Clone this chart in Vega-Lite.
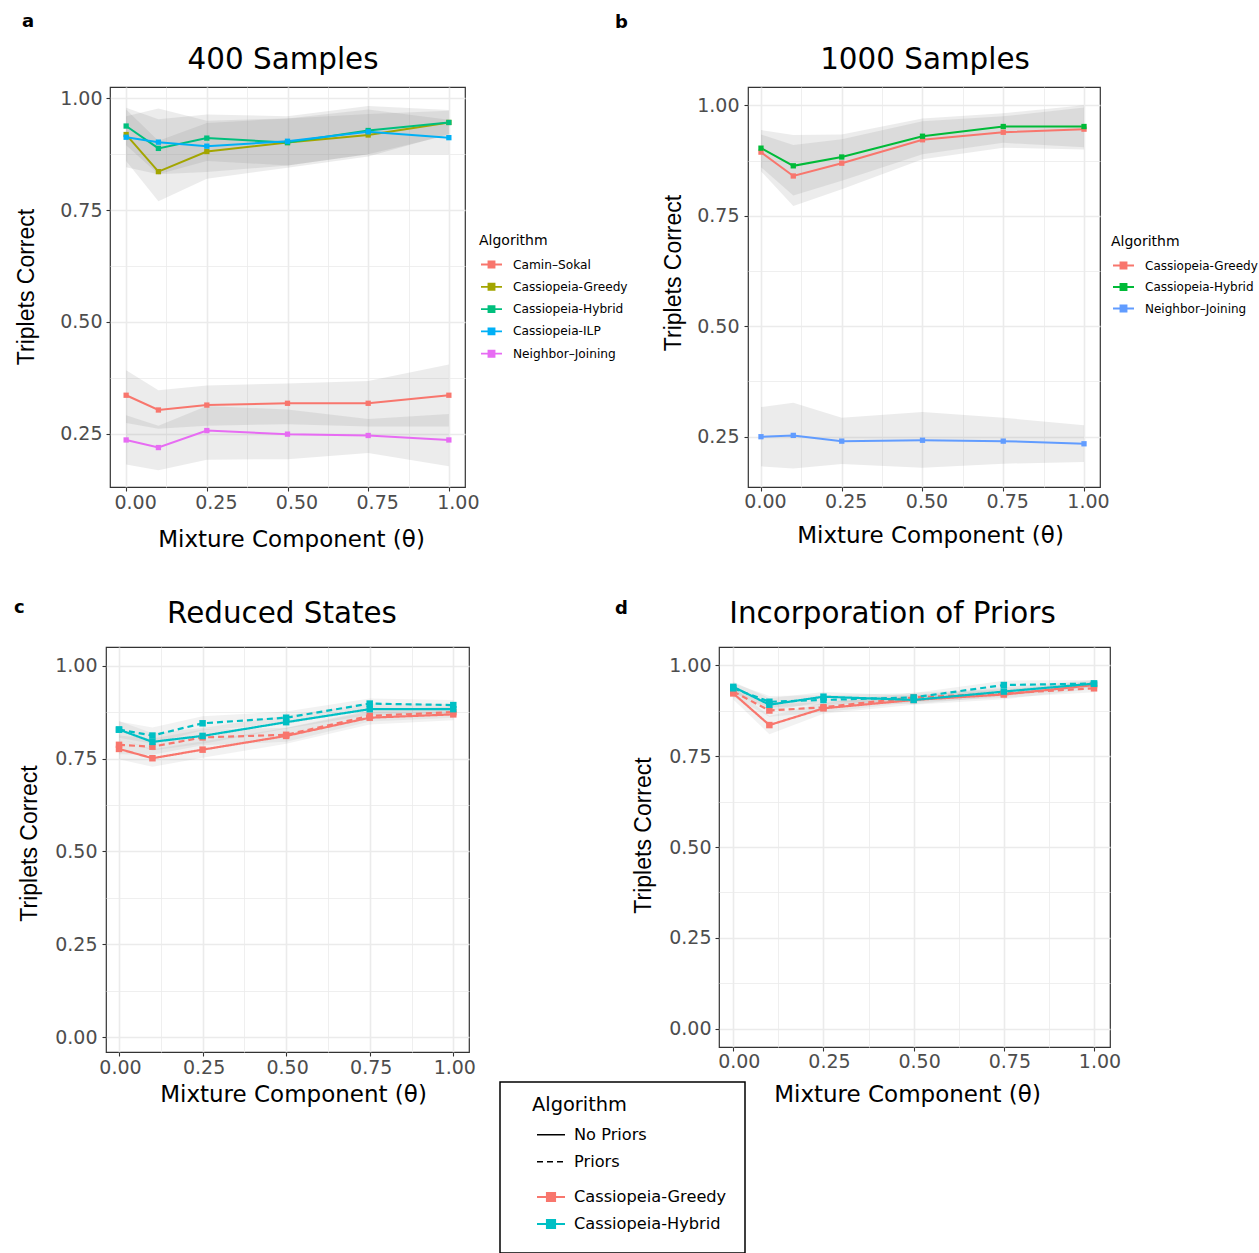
{
"$schema": "https://vega.github.io/schema/vega-lite/v6.json",
"background": "white",
"padding": {"left": 0, "top": 13, "right": 0, "bottom": 0},
"bounds": "full",
"spacing": 46,
"config": {
  "view": {"stroke": "#333333", "strokeWidth": 1.2},
  "axis": {"domain": false, "grid": true, "gridColor": "#EBEBEB", "tickColor": "#333333", "tickSize": 4, "tickWidth": 1.1, "labelFont": "DejaVu Sans", "labelFontSize": 19, "labelColor": "#4D4D4D", "labelOverlap": false, "labelFlush": false, "labelPadding": 4, "titleFontWeight": "normal", "titleColor": "black", "titleBaseline": "alphabetic"},
  "legend": {"padding": 0, "titleFont": "DejaVu Sans", "labelFont": "DejaVu Sans", "titleFontWeight": "normal", "titleColor": "black", "labelColor": "black", "orient": "none"}
},
"datasets": {
  "pa": [
    {"t":0,"alg":"Camin–Sokal","m":0.336,"lo":0.274,"hi":0.392},
    {"t":0.1,"alg":"Camin–Sokal","m":0.303,"lo":0.261,"hi":0.347},
    {"t":0.25,"alg":"Camin–Sokal","m":0.314,"lo":0.268,"hi":0.358},
    {"t":0.5,"alg":"Camin–Sokal","m":0.318,"lo":0.271,"hi":0.362},
    {"t":0.75,"alg":"Camin–Sokal","m":0.318,"lo":0.266,"hi":0.368},
    {"t":1,"alg":"Camin–Sokal","m":0.336,"lo":0.266,"hi":0.405},
    {"t":0,"alg":"Cassiopeia-Greedy","m":0.919,"lo":0.86,"hi":0.975},
    {"t":0.1,"alg":"Cassiopeia-Greedy","m":0.836,"lo":0.77,"hi":0.905},
    {"t":0.25,"alg":"Cassiopeia-Greedy","m":0.881,"lo":0.82,"hi":0.945},
    {"t":0.5,"alg":"Cassiopeia-Greedy","m":0.901,"lo":0.845,"hi":0.955},
    {"t":0.75,"alg":"Cassiopeia-Greedy","m":0.918,"lo":0.87,"hi":0.965},
    {"t":1,"alg":"Cassiopeia-Greedy","m":0.946,"lo":0.92,"hi":0.972},
    {"t":0,"alg":"Cassiopeia-Hybrid","m":0.938,"lo":0.895,"hi":0.979},
    {"t":0.1,"alg":"Cassiopeia-Hybrid","m":0.888,"lo":0.83,"hi":0.953},
    {"t":0.25,"alg":"Cassiopeia-Hybrid","m":0.911,"lo":0.86,"hi":0.964},
    {"t":0.5,"alg":"Cassiopeia-Hybrid","m":0.901,"lo":0.85,"hi":0.96},
    {"t":0.75,"alg":"Cassiopeia-Hybrid","m":0.928,"lo":0.875,"hi":0.983},
    {"t":1,"alg":"Cassiopeia-Hybrid","m":0.946,"lo":0.918,"hi":0.974},
    {"t":0,"alg":"Cassiopeia-ILP","m":0.913,"lo":0.846,"hi":0.96},
    {"t":0.1,"alg":"Cassiopeia-ILP","m":0.902,"lo":0.83,"hi":0.977},
    {"t":0.25,"alg":"Cassiopeia-ILP","m":0.893,"lo":0.835,"hi":0.95},
    {"t":0.5,"alg":"Cassiopeia-ILP","m":0.904,"lo":0.85,"hi":0.955},
    {"t":0.75,"alg":"Cassiopeia-ILP","m":0.925,"lo":0.875,"hi":0.975},
    {"t":1,"alg":"Cassiopeia-ILP","m":0.912,"lo":0.875,"hi":0.952},
    {"t":0,"alg":"Neighbor–Joining","m":0.236,"lo":0.181,"hi":0.291},
    {"t":0.1,"alg":"Neighbor–Joining","m":0.219,"lo":0.168,"hi":0.268},
    {"t":0.25,"alg":"Neighbor–Joining","m":0.257,"lo":0.192,"hi":0.312},
    {"t":0.5,"alg":"Neighbor–Joining","m":0.249,"lo":0.193,"hi":0.304},
    {"t":0.75,"alg":"Neighbor–Joining","m":0.246,"lo":0.207,"hi":0.283},
    {"t":1,"alg":"Neighbor–Joining","m":0.236,"lo":0.177,"hi":0.294}
  ],
  "pb": [
    {"t":0,"alg":"Cassiopeia-Greedy","m":0.894,"lo":0.851,"hi":0.934},
    {"t":0.1,"alg":"Cassiopeia-Greedy","m":0.840,"lo":0.772,"hi":0.91},
    {"t":0.25,"alg":"Cassiopeia-Greedy","m":0.869,"lo":0.81,"hi":0.923},
    {"t":0.5,"alg":"Cassiopeia-Greedy","m":0.922,"lo":0.878,"hi":0.964},
    {"t":0.75,"alg":"Cassiopeia-Greedy","m":0.939,"lo":0.904,"hi":0.975},
    {"t":1,"alg":"Cassiopeia-Greedy","m":0.946,"lo":0.9,"hi":0.995},
    {"t":0,"alg":"Cassiopeia-Hybrid","m":0.903,"lo":0.86,"hi":0.944},
    {"t":0.1,"alg":"Cassiopeia-Hybrid","m":0.863,"lo":0.796,"hi":0.933},
    {"t":0.25,"alg":"Cassiopeia-Hybrid","m":0.883,"lo":0.829,"hi":0.934},
    {"t":0.5,"alg":"Cassiopeia-Hybrid","m":0.930,"lo":0.889,"hi":0.970},
    {"t":0.75,"alg":"Cassiopeia-Hybrid","m":0.952,"lo":0.915,"hi":0.982},
    {"t":1,"alg":"Cassiopeia-Hybrid","m":0.952,"lo":0.905,"hi":1.0},
    {"t":0,"alg":"Neighbor–Joining","m":0.250,"lo":0.183,"hi":0.317},
    {"t":0.1,"alg":"Neighbor–Joining","m":0.253,"lo":0.178,"hi":0.327},
    {"t":0.25,"alg":"Neighbor–Joining","m":0.240,"lo":0.188,"hi":0.293},
    {"t":0.5,"alg":"Neighbor–Joining","m":0.242,"lo":0.180,"hi":0.306},
    {"t":0.75,"alg":"Neighbor–Joining","m":0.240,"lo":0.189,"hi":0.293},
    {"t":1,"alg":"Neighbor–Joining","m":0.234,"lo":0.193,"hi":0.276}
  ],
  "pc": [
    {"t":0,"alg":"Cassiopeia-Greedy","pr":"No Priors","m":0.776,"lo":0.748,"hi":0.804},
    {"t":0.1,"alg":"Cassiopeia-Greedy","pr":"No Priors","m":0.751,"lo":0.728,"hi":0.775},
    {"t":0.25,"alg":"Cassiopeia-Greedy","pr":"No Priors","m":0.774,"lo":0.752,"hi":0.797},
    {"t":0.5,"alg":"Cassiopeia-Greedy","pr":"No Priors","m":0.811,"lo":0.79,"hi":0.832},
    {"t":0.75,"alg":"Cassiopeia-Greedy","pr":"No Priors","m":0.860,"lo":0.842,"hi":0.877},
    {"t":1,"alg":"Cassiopeia-Greedy","pr":"No Priors","m":0.869,"lo":0.853,"hi":0.885},
    {"t":0,"alg":"Cassiopeia-Greedy","pr":"Priors","m":0.787,"lo":0.762,"hi":0.812},
    {"t":0.1,"alg":"Cassiopeia-Greedy","pr":"Priors","m":0.782,"lo":0.76,"hi":0.804},
    {"t":0.25,"alg":"Cassiopeia-Greedy","pr":"Priors","m":0.807,"lo":0.786,"hi":0.828},
    {"t":0.5,"alg":"Cassiopeia-Greedy","pr":"Priors","m":0.814,"lo":0.795,"hi":0.833},
    {"t":0.75,"alg":"Cassiopeia-Greedy","pr":"Priors","m":0.865,"lo":0.85,"hi":0.88},
    {"t":1,"alg":"Cassiopeia-Greedy","pr":"Priors","m":0.875,"lo":0.86,"hi":0.89},
    {"t":0,"alg":"Cassiopeia-Hybrid","pr":"No Priors","m":0.828,"lo":0.805,"hi":0.851},
    {"t":0.1,"alg":"Cassiopeia-Hybrid","pr":"No Priors","m":0.795,"lo":0.772,"hi":0.818},
    {"t":0.25,"alg":"Cassiopeia-Hybrid","pr":"No Priors","m":0.811,"lo":0.79,"hi":0.832},
    {"t":0.5,"alg":"Cassiopeia-Hybrid","pr":"No Priors","m":0.848,"lo":0.83,"hi":0.866},
    {"t":0.75,"alg":"Cassiopeia-Hybrid","pr":"No Priors","m":0.883,"lo":0.868,"hi":0.898},
    {"t":1,"alg":"Cassiopeia-Hybrid","pr":"No Priors","m":0.883,"lo":0.869,"hi":0.897},
    {"t":0,"alg":"Cassiopeia-Hybrid","pr":"Priors","m":0.828,"lo":0.806,"hi":0.85},
    {"t":0.1,"alg":"Cassiopeia-Hybrid","pr":"Priors","m":0.812,"lo":0.79,"hi":0.834},
    {"t":0.25,"alg":"Cassiopeia-Hybrid","pr":"Priors","m":0.845,"lo":0.826,"hi":0.864},
    {"t":0.5,"alg":"Cassiopeia-Hybrid","pr":"Priors","m":0.860,"lo":0.843,"hi":0.877},
    {"t":0.75,"alg":"Cassiopeia-Hybrid","pr":"Priors","m":0.898,"lo":0.884,"hi":0.912},
    {"t":1,"alg":"Cassiopeia-Hybrid","pr":"Priors","m":0.894,"lo":0.88,"hi":0.908}
  ],
  "pd": [
    {"t":0,"alg":"Cassiopeia-Greedy","pr":"No Priors","m":0.922,"lo":0.905,"hi":0.939},
    {"t":0.1,"alg":"Cassiopeia-Greedy","pr":"No Priors","m":0.835,"lo":0.81,"hi":0.86},
    {"t":0.25,"alg":"Cassiopeia-Greedy","pr":"No Priors","m":0.881,"lo":0.866,"hi":0.896},
    {"t":0.5,"alg":"Cassiopeia-Greedy","pr":"No Priors","m":0.904,"lo":0.891,"hi":0.917},
    {"t":0.75,"alg":"Cassiopeia-Greedy","pr":"No Priors","m":0.919,"lo":0.906,"hi":0.932},
    {"t":1,"alg":"Cassiopeia-Greedy","pr":"No Priors","m":0.945,"lo":0.934,"hi":0.956},
    {"t":0,"alg":"Cassiopeia-Greedy","pr":"Priors","m":0.927,"lo":0.912,"hi":0.942},
    {"t":0.1,"alg":"Cassiopeia-Greedy","pr":"Priors","m":0.875,"lo":0.858,"hi":0.892},
    {"t":0.25,"alg":"Cassiopeia-Greedy","pr":"Priors","m":0.884,"lo":0.87,"hi":0.898},
    {"t":0.5,"alg":"Cassiopeia-Greedy","pr":"Priors","m":0.911,"lo":0.898,"hi":0.924},
    {"t":0.75,"alg":"Cassiopeia-Greedy","pr":"Priors","m":0.922,"lo":0.91,"hi":0.934},
    {"t":1,"alg":"Cassiopeia-Greedy","pr":"Priors","m":0.936,"lo":0.925,"hi":0.947},
    {"t":0,"alg":"Cassiopeia-Hybrid","pr":"No Priors","m":0.940,"lo":0.926,"hi":0.954},
    {"t":0.1,"alg":"Cassiopeia-Hybrid","pr":"No Priors","m":0.891,"lo":0.873,"hi":0.909},
    {"t":0.25,"alg":"Cassiopeia-Hybrid","pr":"No Priors","m":0.913,"lo":0.9,"hi":0.926},
    {"t":0.5,"alg":"Cassiopeia-Hybrid","pr":"No Priors","m":0.904,"lo":0.892,"hi":0.916},
    {"t":0.75,"alg":"Cassiopeia-Hybrid","pr":"No Priors","m":0.927,"lo":0.915,"hi":0.939},
    {"t":1,"alg":"Cassiopeia-Hybrid","pr":"No Priors","m":0.949,"lo":0.939,"hi":0.959},
    {"t":0,"alg":"Cassiopeia-Hybrid","pr":"Priors","m":0.936,"lo":0.922,"hi":0.95},
    {"t":0.1,"alg":"Cassiopeia-Hybrid","pr":"Priors","m":0.899,"lo":0.883,"hi":0.915},
    {"t":0.25,"alg":"Cassiopeia-Hybrid","pr":"Priors","m":0.904,"lo":0.891,"hi":0.917},
    {"t":0.5,"alg":"Cassiopeia-Hybrid","pr":"Priors","m":0.911,"lo":0.899,"hi":0.923},
    {"t":0.75,"alg":"Cassiopeia-Hybrid","pr":"Priors","m":0.945,"lo":0.933,"hi":0.957},
    {"t":1,"alg":"Cassiopeia-Hybrid","pr":"Priors","m":0.949,"lo":0.939,"hi":0.959}
  ]
},
"vconcat": [
 {"hconcat": [
  {"width": 110, "height": 400, "data": {"values": []}, "mark": "point", "view": {"stroke": null},
   "title": {"text": "a", "anchor": "start", "frame": "group", "dx": 22, "offset": 42, "baseline": "alphabetic", "font": "DejaVu Sans", "fontSize": 18, "fontWeight": "bold", "color": "black"}},
  {"width": 355, "height": 400, "data": {"name": "pa"},
   "title": {"text": "400 Samples", "anchor": "middle", "frame": "group", "dx": -4.5, "offset": -11, "baseline": "alphabetic", "font": "DejaVu Sans", "fontSize": 29.4, "fontWeight": "normal", "color": "black"},
   "encoding": {
     "x": {"field": "t", "type": "quantitative", "scale": {"domain": [-0.05, 1.05], "nice": false, "zero": false},
       "axis": {"values": [0,0.125,0.25,0.375,0.5,0.625,0.75,0.875,1], "labelExpr": "datum.value*4%1 != 0 ? '' : format(datum.value, '.2f')", "gridWidth": {"condition": {"test": "datum.value*4%1 != 0", "value": 0.8}, "value": 1.6}, "tickOpacity": {"condition": {"test": "datum.value*4%1 != 0", "value": 0}, "value": 1}, "labelOffset": 9, "labelPadding": 2, "title": "Mixture Component (θ)", "titleFont": "DejaVu Sans", "titleFontSize": 23, "titleX": 181, "titleY": 59}},
     "color": {"field": "alg", "type": "nominal", "scale": {"domain": ["Camin–Sokal","Cassiopeia-Greedy","Cassiopeia-Hybrid","Cassiopeia-ILP","Neighbor–Joining"], "range": ["#F8766D","#A3A500","#00BF7D","#00B0F6","#E76BF3"]},
       "legend": {"orient": "none", "legendX": 369, "legendY": 147, "title": "Algorithm", "titleFontSize": 14, "titlePadding": 5, "labelFontSize": 12.2, "symbolType": "M-1,0H1M-0.29,-0.29H0.29V0.29H-0.29Z", "symbolSize": 441, "symbolStrokeWidth": 1.8, "symbolOffset": 1, "labelOffset": 10, "rowPadding": 3.3,
         "encode": {"symbols": {"update": {"fill": {"signal": "{'Camin–Sokal':'#F8766D','Cassiopeia-Greedy':'#A3A500','Cassiopeia-Hybrid':'#00BF7D','Cassiopeia-ILP':'#00B0F6','Neighbor–Joining':'#E76BF3'}[datum.value]"}, "stroke": {"signal": "{'Camin–Sokal':'#F8766D','Cassiopeia-Greedy':'#A3A500','Cassiopeia-Hybrid':'#00BF7D','Cassiopeia-ILP':'#00B0F6','Neighbor–Joining':'#E76BF3'}[datum.value]"}, "opacity": {"value": 1}}}}}}
   },
   "layer": [
     {"mark": {"type": "area", "opacity": 0.15},
      "encoding": {"y": {"field": "lo", "type": "quantitative", "scale": {"domain": [0.1308, 1.0253], "nice": false, "zero": false},
        "axis": {"values": [0.25,0.375,0.5,0.625,0.75,0.875,1], "labelExpr": "datum.value*4%1 != 0 ? '' : format(datum.value, '.2f')", "gridWidth": {"condition": {"test": "datum.value*4%1 != 0", "value": 0.8}, "value": 1.6}, "tickOpacity": {"condition": {"test": "datum.value*4%1 != 0", "value": 0}, "value": 1}, "title": "Triplets Correct", "titleFont": "Liberation Sans", "titleFontSize": 23, "titleAngle": 270, "titleX": -77, "titleY": 199.5}},
        "y2": {"field": "hi"}, "color": {"value": "#7F7F7F"}, "detail": {"field": "alg"}}},
     {"mark": {"type": "line", "strokeWidth": 2},
      "encoding": {"y": {"field": "m", "type": "quantitative", "scale": {"domain": [0.1308, 1.0253], "nice": false, "zero": false}}}},
     {"mark": {"type": "point", "shape": "square", "filled": true, "size": 28, "opacity": 1},
      "encoding": {"y": {"field": "m", "type": "quantitative", "scale": {"domain": [0.1308, 1.0253], "nice": false, "zero": false}}}}
   ]},
  {"width": 283, "height": 400, "data": {"values": []}, "mark": "point", "view": {"stroke": null},
   "title": {"text": "b", "anchor": "start", "frame": "group", "dx": 150, "offset": 41, "baseline": "alphabetic", "font": "DejaVu Sans", "fontSize": 18, "fontWeight": "bold", "color": "black"}},
  {"width": 352, "height": 400, "data": {"name": "pb"},
   "title": {"text": "1000 Samples", "anchor": "middle", "frame": "group", "dx": 1, "offset": -11, "baseline": "alphabetic", "font": "DejaVu Sans", "fontSize": 29.4, "fontWeight": "normal", "color": "black"},
   "encoding": {
     "x": {"field": "t", "type": "quantitative", "scale": {"domain": [-0.0402, 1.0495], "nice": false, "zero": false},
       "axis": {"values": [0,0.125,0.25,0.375,0.5,0.625,0.75,0.875,1], "labelExpr": "datum.value*4%1 != 0 ? '' : format(datum.value, '.2f')", "gridWidth": {"condition": {"test": "datum.value*4%1 != 0", "value": 0.8}, "value": 1.6}, "tickOpacity": {"condition": {"test": "datum.value*4%1 != 0", "value": 0}, "value": 1}, "labelOffset": 4, "labelPadding": 1.5, "title": "Mixture Component (θ)", "titleFont": "DejaVu Sans", "titleFontSize": 23, "titleX": 182, "titleY": 55.5}},
     "color": {"field": "alg", "type": "nominal", "scale": {"domain": ["Cassiopeia-Greedy","Cassiopeia-Hybrid","Neighbor–Joining"], "range": ["#F8766D","#00BA38","#619CFF"]},
       "legend": {"orient": "none", "legendX": 363, "legendY": 148, "title": "Algorithm", "titleFontSize": 14, "titlePadding": 5, "labelFontSize": 12, "symbolType": "M-1,0H1M-0.29,-0.29H0.29V0.29H-0.29Z", "symbolSize": 441, "symbolStrokeWidth": 1.8, "symbolOffset": 1, "labelOffset": 10, "rowPadding": 2.5,
         "encode": {"symbols": {"update": {"fill": {"signal": "{'Cassiopeia-Greedy':'#F8766D','Cassiopeia-Hybrid':'#00BA38','Neighbor–Joining':'#619CFF'}[datum.value]"}, "stroke": {"signal": "{'Cassiopeia-Greedy':'#F8766D','Cassiopeia-Hybrid':'#00BA38','Neighbor–Joining':'#619CFF'}[datum.value]"}, "opacity": {"value": 1}}}}}}
   },
   "layer": [
     {"mark": {"type": "area", "opacity": 0.15},
      "encoding": {"y": {"field": "lo", "type": "quantitative", "scale": {"domain": [0.1362, 1.0414], "nice": false, "zero": false},
        "axis": {"values": [0.25,0.375,0.5,0.625,0.75,0.875,1], "labelExpr": "datum.value*4%1 != 0 ? '' : format(datum.value, '.2f')", "gridWidth": {"condition": {"test": "datum.value*4%1 != 0", "value": 0.8}, "value": 1.6}, "tickOpacity": {"condition": {"test": "datum.value*4%1 != 0", "value": 0}, "value": 1}, "labelPadding": 5, "title": "Triplets Correct", "titleFont": "Liberation Sans", "titleFontSize": 23, "titleAngle": 270, "titleX": -68, "titleY": 185.5}},
        "y2": {"field": "hi"}, "color": {"value": "#7F7F7F"}, "detail": {"field": "alg"}}},
     {"mark": {"type": "line", "strokeWidth": 2},
      "encoding": {"y": {"field": "m", "type": "quantitative", "scale": {"domain": [0.1362, 1.0414], "nice": false, "zero": false}}}},
     {"mark": {"type": "point", "shape": "square", "filled": true, "size": 28, "opacity": 1},
      "encoding": {"y": {"field": "m", "type": "quantitative", "scale": {"domain": [0.1362, 1.0414], "nice": false, "zero": false}}}}
   ]}
 ], "bounds": "flush", "spacing": 0,
 "resolve": {"scale": {"color": "independent", "strokeDash": "independent"}, "legend": {"color": "independent", "strokeDash": "independent"}}},
 {"hconcat": [
   {"width": 106, "height": 400, "data": {"values": []}, "mark": "point", "view": {"stroke": null},
    "title": {"text": "c", "anchor": "start", "frame": "group", "dx": 14, "offset": 16, "baseline": "alphabetic", "font": "DejaVu Sans", "fontSize": 18, "fontWeight": "bold", "color": "black"}},
   {"width": 363, "height": 405, "data": {"name": "pc"},
    "title": {"text": "Reduced States", "anchor": "middle", "frame": "group", "dx": -5.5, "offset": -5, "baseline": "alphabetic", "font": "DejaVu Sans", "fontSize": 29.4, "fontWeight": "normal", "color": "black"},
    "encoding": {
      "x": {"field": "t", "type": "quantitative", "scale": {"domain": [-0.0389, 1.047], "nice": false, "zero": false},
        "axis": {"values": [0,0.125,0.25,0.375,0.5,0.625,0.75,0.875,1], "labelExpr": "datum.value*4%1 != 0 ? '' : format(datum.value, '.2f')", "gridWidth": {"condition": {"test": "datum.value*4%1 != 0", "value": 0.8}, "value": 1.6}, "tickOpacity": {"condition": {"test": "datum.value*4%1 != 0", "value": 0}, "value": 1}, "labelOffset": 1, "labelPadding": 2, "title": "Mixture Component (θ)", "titleFont": "DejaVu Sans", "titleFontSize": 23, "titleX": 187, "titleY": 49.5}},
      "color": {"field": "alg", "type": "nominal", "scale": {"domain": ["Cassiopeia-Greedy","Cassiopeia-Hybrid"], "range": ["#F8766D","#00BFC4"]}, "legend": null}
    },
    "layer": [
      {"mark": {"type": "area", "opacity": 0.1},
       "encoding": {"y": {"field": "lo", "type": "quantitative", "scale": {"domain": [-0.0396, 1.0503], "nice": false, "zero": false},
         "axis": {"values": [0,0.125,0.25,0.375,0.5,0.625,0.75,0.875,1], "labelExpr": "datum.value*4%1 != 0 ? '' : format(datum.value, '.2f')", "gridWidth": {"condition": {"test": "datum.value*4%1 != 0", "value": 0.8}, "value": 1.6}, "tickOpacity": {"condition": {"test": "datum.value*4%1 != 0", "value": 0}, "value": 1}, "labelPadding": 5, "title": "Triplets Correct", "titleFont": "Liberation Sans", "titleFontSize": 23, "titleAngle": 270, "titleX": -70, "titleY": 196}},
         "y2": {"field": "hi"}, "color": {"value": "#7F7F7F"}, "detail": [{"field": "alg"}, {"field": "pr"}]}},
      {"mark": {"type": "line", "strokeWidth": 2.2},
       "encoding": {"y": {"field": "m", "type": "quantitative", "scale": {"domain": [-0.0396, 1.0503], "nice": false, "zero": false}},
         "strokeDash": {"field": "pr", "type": "nominal", "scale": {"domain": ["No Priors","Priors"], "range": [[1,0],[6,4]]}, "legend": null}}},
      {"mark": {"type": "point", "shape": "square", "filled": true, "size": 42, "opacity": 1},
       "encoding": {"y": {"field": "m", "type": "quantitative", "scale": {"domain": [-0.0396, 1.0503], "nice": false, "zero": false}}}}
    ]},
   {"width": 31, "height": 273, "data": {"values": []}, "mark": "point", "view": {"stroke": null}},
   {"vconcat": [
     {"width": 1, "height": 433, "data": {"values": []}, "mark": "point", "view": {"stroke": null}},
     {"width": 245, "height": 171, "data": {"values": []}, "view": {"stroke": "black", "strokeWidth": 1.5},
      "mark": {"type": "line"},
      "encoding": {
        "x": {"field": "t", "type": "quantitative", "scale": {"domain": [0, 1]}, "axis": null},
        "y": {"field": "m", "type": "quantitative", "scale": {"domain": [0, 1]}, "axis": null},
        "color": {"field": "alg", "type": "nominal", "scale": {"domain": ["Cassiopeia-Greedy","Cassiopeia-Hybrid"], "range": ["#F8766D","#00BFC4"]},
          "legend": {"orient": "none", "legendX": 32, "legendY": 100, "title": null, "labelFontSize": 16.2, "symbolType": "M-1,0H1M-0.29,-0.29H0.29V0.29H-0.29Z", "symbolSize": 784, "symbolStrokeWidth": 2, "symbolOffset": 4, "labelOffset": 8, "rowPadding": 3,
            "encode": {"symbols": {"update": {"fill": {"signal": "datum.value == 'Cassiopeia-Greedy' ? '#F8766D' : '#00BFC4'"}, "stroke": {"signal": "datum.value == 'Cassiopeia-Greedy' ? '#F8766D' : '#00BFC4'"}, "opacity": {"value": 1}}}}}},
        "strokeDash": {"field": "pr", "type": "nominal", "scale": {"domain": ["No Priors","Priors"], "range": [[1,0],[6,4]]},
          "legend": {"orient": "none", "legendX": 32, "legendY": 14, "title": "Algorithm", "titleFontSize": 19.4, "titlePadding": 4.3, "labelFontSize": 16.2, "symbolType": "M-1,0H1", "symbolSize": 784, "symbolStrokeColor": "black", "symbolStrokeWidth": 1.5, "symbolOffset": 4, "labelOffset": 8, "rowPadding": 3,
            "encode": {"symbols": {"update": {"stroke": {"value": "black"}, "strokeDash": {"signal": "datum.value == 'Priors' ? [4,4] : [1,0]"}, "opacity": {"value": 1}}}}}}
      }}
   ], "bounds": "full", "spacing": 1,
   "resolve": {"scale": {"color": "independent", "strokeDash": "independent"}, "legend": {"color": "independent", "strokeDash": "independent"}}},
   {"width": 219, "height": 273, "data": {"values": []}, "mark": "point", "view": {"stroke": null},
    "title": {"text": "d", "anchor": "start", "frame": "group", "dx": 115, "offset": 15, "baseline": "alphabetic", "font": "DejaVu Sans", "fontSize": 18, "fontWeight": "bold", "color": "black"}},
   {"width": 391, "height": 400, "data": {"name": "pd"},
    "title": {"text": "Incorporation of Priors", "anchor": "middle", "frame": "group", "dx": -22, "offset": -5, "baseline": "alphabetic", "font": "DejaVu Sans", "fontSize": 29.4, "fontWeight": "normal", "color": "black"},
    "encoding": {
      "x": {"field": "t", "type": "quantitative", "scale": {"domain": [-0.0396, 1.0443], "nice": false, "zero": false},
        "axis": {"values": [0,0.125,0.25,0.375,0.5,0.625,0.75,0.875,1], "labelExpr": "datum.value*4%1 != 0 ? '' : format(datum.value, '.2f')", "gridWidth": {"condition": {"test": "datum.value*4%1 != 0", "value": 0.8}, "value": 1.6}, "tickOpacity": {"condition": {"test": "datum.value*4%1 != 0", "value": 0}, "value": 1}, "labelOffset": 5.5, "labelPadding": 1, "title": "Mixture Component (θ)", "titleFont": "DejaVu Sans", "titleFontSize": 23, "titleX": 188, "titleY": 54.5}},
      "color": {"field": "alg", "type": "nominal", "scale": {"domain": ["Cassiopeia-Greedy","Cassiopeia-Hybrid"], "range": ["#F8766D","#00BFC4"]}, "legend": null}
    },
    "layer": [
      {"mark": {"type": "area", "opacity": 0.1},
       "encoding": {"y": {"field": "lo", "type": "quantitative", "scale": {"domain": [-0.0495, 1.0495], "nice": false, "zero": false},
         "axis": {"values": [0,0.125,0.25,0.375,0.5,0.625,0.75,0.875,1], "labelExpr": "datum.value*4%1 != 0 ? '' : format(datum.value, '.2f')", "gridWidth": {"condition": {"test": "datum.value*4%1 != 0", "value": 0.8}, "value": 1.6}, "tickOpacity": {"condition": {"test": "datum.value*4%1 != 0", "value": 0}, "value": 1}, "title": "Triplets Correct", "titleFont": "Liberation Sans", "titleFontSize": 23, "titleAngle": 270, "titleX": -69, "titleY": 188}},
         "y2": {"field": "hi"}, "color": {"value": "#7F7F7F"}, "detail": [{"field": "alg"}, {"field": "pr"}]}},
      {"mark": {"type": "line", "strokeWidth": 2.2},
       "encoding": {"y": {"field": "m", "type": "quantitative", "scale": {"domain": [-0.0495, 1.0495], "nice": false, "zero": false}},
         "strokeDash": {"field": "pr", "type": "nominal", "scale": {"domain": ["No Priors","Priors"], "range": [[1,0],[6,4]]}, "legend": null}}},
      {"mark": {"type": "point", "shape": "square", "filled": true, "size": 42, "opacity": 1},
       "encoding": {"y": {"field": "m", "type": "quantitative", "scale": {"domain": [-0.0495, 1.0495], "nice": false, "zero": false}}}}
    ]}
 ], "bounds": "flush", "spacing": 0,
 "resolve": {"scale": {"color": "independent", "strokeDash": "independent"}, "legend": {"color": "independent", "strokeDash": "independent"}}}
],
"resolve": {"scale": {"color": "independent", "strokeDash": "independent"}, "legend": {"color": "independent", "strokeDash": "independent"}}
}
